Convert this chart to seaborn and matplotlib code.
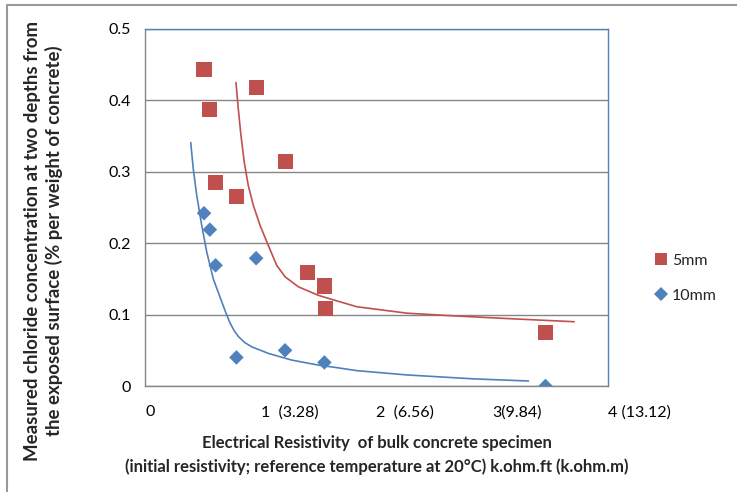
import numpy as np
import pandas as pd
import seaborn as sns
import matplotlib
matplotlib.use("Agg")
import matplotlib.pyplot as plt
import matplotlib.transforms as mtransforms
from matplotlib.lines import Line2D

# ---- data ----
x_5mm = [0.51, 0.56, 0.61, 0.79, 0.96, 1.21, 1.40, 1.55, 1.56, 3.46]
y_5mm = [0.443, 0.387, 0.285, 0.265, 0.418, 0.314, 0.159, 0.140, 0.108, 0.075]

x_10mm = [0.51, 0.56, 0.61, 0.79, 0.96, 1.21, 1.55, 3.46]
y_10mm = [0.242, 0.219, 0.169, 0.040, 0.179, 0.050, 0.033, 0.000]

# trend curves
trend5_x = [0.786, 0.806, 0.829, 0.858, 0.892, 0.936, 0.994, 1.065, 1.138, 1.210, 1.324,
            1.497, 1.641, 1.830, 2.262, 2.694, 3.126, 3.708]
trend5_y = [0.425, 0.388, 0.351, 0.313, 0.281, 0.253, 0.225, 0.197, 0.169, 0.153, 0.139,
            0.127, 0.120, 0.111, 0.102, 0.098, 0.0945, 0.090]
trend10_x = [0.395, 0.417, 0.447, 0.490, 0.533, 0.590, 0.663, 0.700, 0.734, 0.770, 0.806,
             0.860, 0.922, 1.065, 1.267, 1.497, 1.641, 1.830, 2.262, 2.838, 3.313]
trend10_y = [0.341, 0.304, 0.267, 0.225, 0.188, 0.150, 0.118, 0.102, 0.0885, 0.0775, 0.0695,
             0.061, 0.0549, 0.0457, 0.0363, 0.0293, 0.0261, 0.0215, 0.0155, 0.010, 0.007]

series_names = ["5mm", "10mm"]
x_ticks = [0, 1, 2, 3, 4]
x_tick_labels = ["0", "1  (3.28)", "2  (6.56)", "3(9.84)", "4 (13.12)"]
y_ticks = [0, 0.1, 0.2, 0.3, 0.4, 0.5]
y_tick_labels = ["0", "0.1", "0.2", "0.3", "0.4", "0.5"]

red = "#C0504D"
blue = "#4F81BD"

sns.set_style("white")
plt.rcParams["font.family"] = ["Lato", "DejaVu Sans"]

pts = pd.DataFrame({
    "x": x_5mm + x_10mm,
    "y": y_5mm + y_10mm,
    "series": [series_names[0]] * len(x_5mm) + [series_names[1]] * len(x_10mm),
})
trend = pd.DataFrame({
    "x": trend5_x + trend10_x,
    "y": trend5_y + trend10_y,
    "series": [series_names[0]] * len(trend5_x) + [series_names[1]] * len(trend10_x),
})

W, H = 737, 492
fig = plt.figure(figsize=(W / 100, H / 100), dpi=100)
ax = fig.add_axes([145 / W, 1 - 386 / H, (608 - 145) / W, (386 - 29) / H])

palette = {series_names[0]: red, series_names[1]: blue}

sns.lineplot(data=trend, x="x", y="y", hue="series", palette=palette, sort=False,
             estimator=None, units="series", legend=False, linewidth=1.2, ax=ax)
sns.scatterplot(data=pts, x="x", y="y", hue="series", style="series", size="series",
                sizes={series_names[0]: 118, series_names[1]: 55},
                markers={series_names[0]: "s", series_names[1]: "D"},
                palette=palette, edgecolor="none", linewidth=0, ax=ax, zorder=3, legend=False)

ax.set_xlim(0, 4)
ax.set_ylim(0, 0.5)
ax.set_xticks(x_ticks)
ax.set_xticklabels(x_tick_labels, ha="left")
offset = mtransforms.ScaledTranslation(-5 / 100, 0, fig.dpi_scale_trans)
for lab in ax.get_xticklabels():
    lab.set_transform(lab.get_transform() + offset)
ax.set_yticks(y_ticks)
ax.set_yticklabels(y_tick_labels)
ax.tick_params(axis="both", direction="out", length=4, color="#868686",
               labelsize=11.5, labelcolor="black")
ax.tick_params(axis="x", pad=10)
ax.tick_params(axis="y", pad=6)
ax.yaxis.grid(True, color="#868686", linewidth=1.0)
ax.set_axisbelow(True)
for side in ["left", "bottom"]:
    ax.spines[side].set_color("#868686")
    ax.spines[side].set_linewidth(1.0)
for side in ["top", "right"]:
    ax.spines[side].set_color("#4F81BD")
    ax.spines[side].set_linewidth(1.0)

ax.set_xlabel("Electrical Resistivity  of bulk concrete specimen\n(initial resistivity; reference temperature at 20°C) k.ohm.ft (k.ohm.m)",
              fontsize=12, fontweight="bold", labelpad=11, linespacing=1.55)
ax.set_ylabel("Measured chloride concentration at two depths from\nthe exposed surface (% per weight of concrete)",
              fontsize=13.4, fontweight="bold", linespacing=1.25)
ax.yaxis.set_label_coords(63 / W, 1 - 241 / H, transform=fig.transFigure)

# legend
leg_handles = [
    Line2D([], [], linestyle="none", marker="s", markersize=8, color=red, markeredgewidth=0),
    Line2D([], [], linestyle="none", marker="D", markersize=7, color=blue, markeredgewidth=0),
]
ax.legend(leg_handles, series_names, loc="center left", bbox_to_anchor=(643 / W, 1 - 278 / H),
          bbox_transform=fig.transFigure, frameon=False, fontsize=11.5,
          handletextpad=0.1, handlelength=1.2, labelspacing=1.3, borderpad=0)

# outer chart border (top and left visible)
fig.add_artist(Line2D([7 / W, 7 / W, 1.0], [0.0, 1 - 5 / H, 1 - 5 / H],
                      transform=fig.transFigure, color="#999999", linewidth=1.5))

fig.savefig("out.png", dpi=100)
